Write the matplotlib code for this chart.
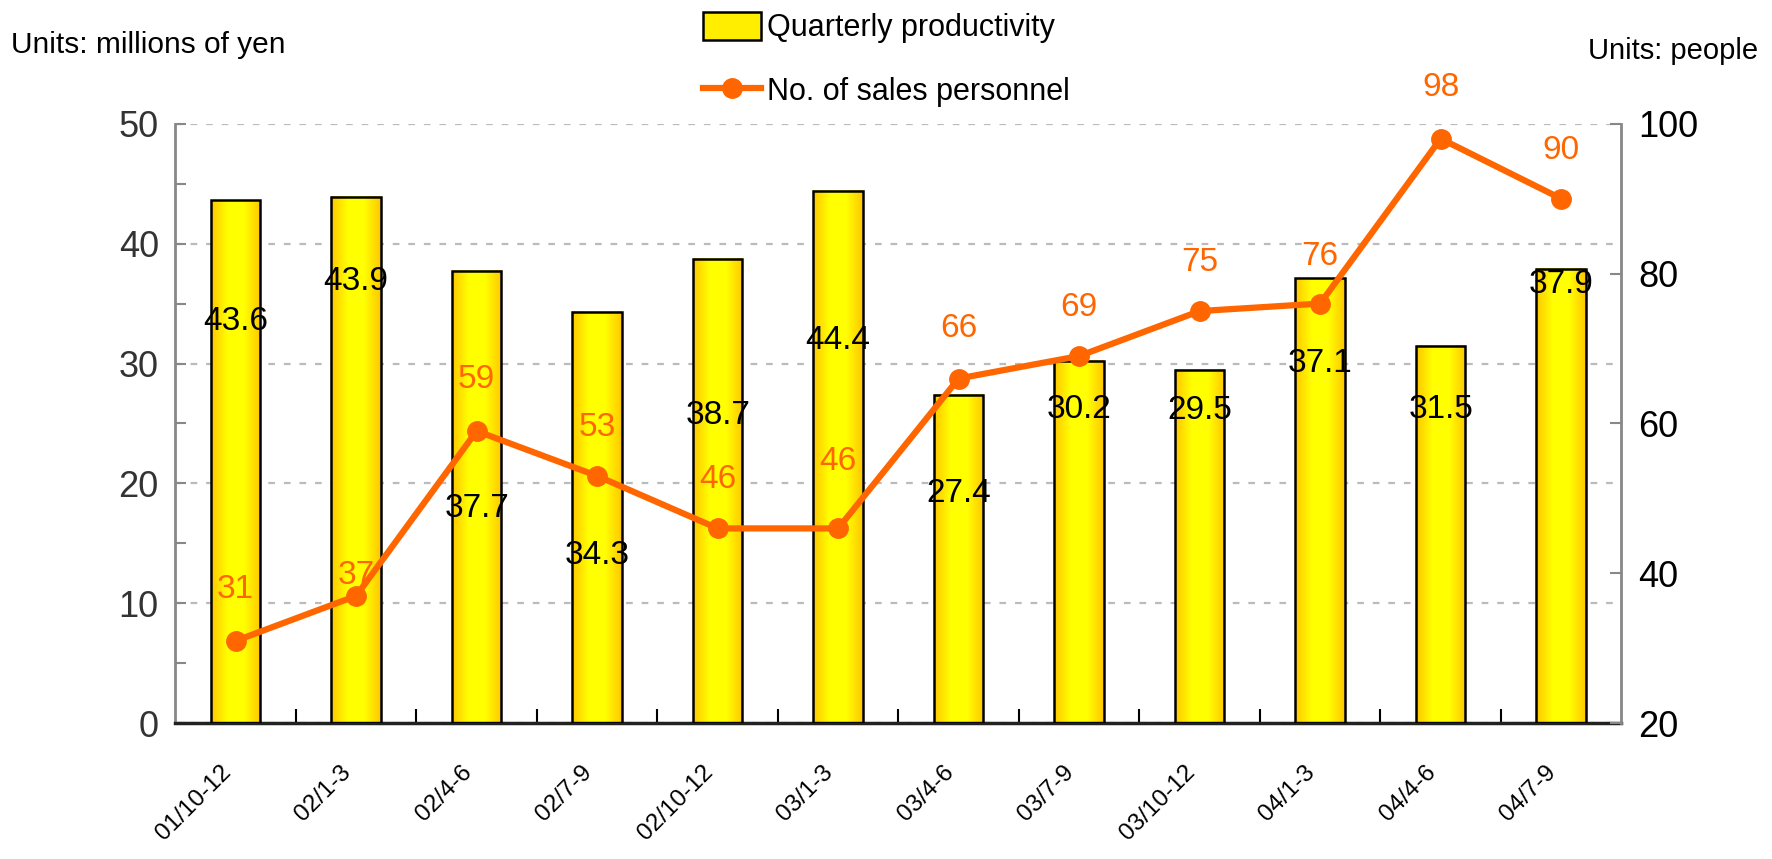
import numpy as np
import matplotlib.pyplot as plt
from matplotlib.colors import LinearSegmentedColormap
from matplotlib.patches import Patch
from matplotlib.lines import Line2D
from matplotlib.transforms import ScaledTranslation

plt.rcParams['font.family'] = ['Liberation Sans Narrow', 'Liberation Sans', 'DejaVu Sans']

quarters = ["01/10-12", "02/1-3", "02/4-6", "02/7-9", "02/10-12", "03/1-3",
            "03/4-6", "03/7-9", "03/10-12", "04/1-3", "04/4-6", "04/7-9"]
productivity = [43.6, 43.9, 37.7, 34.3, 38.7, 44.4, 27.4, 30.2, 29.5, 37.1, 31.5, 37.9]
personnel = [31, 37, 59, 53, 46, 46, 66, 69, 75, 76, 98, 90]

# where the value labels sit (left-axis units for bars, point offsets for the line)
bar_label_y = [33.5, 36.8, 17.9, 14.0, 25.7, 31.9, 19.2, 26.2, 26.1, 30.0, 26.2, 36.6]
line_label_dy = [37, 15, 37, 35, 35, 48, 36, 35, 35, 34, 37, 35]

ORANGE = "#FF6600"
grad = LinearSegmentedColormap.from_list("bar", ["#FFC800", "#FFFF00", "#FFFF00", "#FFC800"])

fig = plt.figure(figsize=(17.72, 8.59), dpi=100)
ax = fig.add_axes([0.099, 0.158, 0.816, 0.698])
ax2 = ax.twinx()

x = np.arange(len(quarters))
w = 0.41
gradient = np.linspace(0, 1, 64).reshape(1, -1)
for xi, v in zip(x, productivity):
    ax.imshow(gradient, cmap=grad, aspect="auto", extent=(xi - w / 2, xi + w / 2, 0, v),
              zorder=2, interpolation="bilinear")
ax.bar(x, productivity, width=w, facecolor="none", edgecolor="black", linewidth=1.8, zorder=3)

for xi, v, ly in zip(x, productivity, bar_label_y):
    ax.text(xi, ly, f"{v}", ha="center", va="center", fontsize=24, color="black", zorder=4)

ax.set_xlim(-0.5, len(quarters) - 0.5)
ax.set_ylim(0, 50)
ax.set_yticks(np.arange(0, 51, 10))
ax.set_yticks(np.arange(0, 51, 5), minor=True)
ax.yaxis.grid(True, which="major", linestyle=(0, (3, 4)), color="#BBBBBB", linewidth=1.6, zorder=0)
ax.set_axisbelow(True)
ax.tick_params(axis="y", which="both", direction="in", length=8, width=1.5, color="#888888",
               labelsize=26, labelcolor="#333333", pad=12)

ax.set_xticks(x)
ax.set_xticklabels(quarters, rotation=45, ha="right", va="top", rotation_mode="anchor", fontsize=17.5)
ax.set_xticks(x[:-1] + 0.5, minor=True)
ax.tick_params(axis="x", which="major", length=0, pad=27)
ax.tick_params(axis="x", which="minor", direction="in", length=10, width=1.5, color="black")
shift = ScaledTranslation(-0.16, 0, fig.dpi_scale_trans)
for lbl in ax.get_xticklabels():
    lbl.set_transform(lbl.get_transform() + shift)

ax.spines["top"].set_visible(False)
ax.spines["left"].set_color("#888888")
ax.spines["left"].set_linewidth(2)
ax.spines["bottom"].set_color("#222222")
ax.spines["bottom"].set_linewidth(2.5)

ax2.plot(x, personnel, color=ORANGE, linewidth=4.5, marker="o", markersize=14, zorder=5)
for xi, v, dy in zip(x, personnel, line_label_dy):
    ax2.annotate(f"{v}", (xi, v), xytext=(0, dy), textcoords="offset points",
                 ha="center", va="center", fontsize=24, color=ORANGE)
ax2.set_ylim(20, 100)
ax2.set_yticks(np.arange(20, 101, 20))
ax2.tick_params(axis="y", direction="in", length=8, width=1.5, color="#888888",
                labelsize=26, labelcolor="black", pad=12)
for s in ["top", "left", "bottom"]:
    ax2.spines[s].set_visible(False)
ax2.spines["right"].set_color("#888888")
ax2.spines["right"].set_linewidth(2)

fig.text(0.006, 1 - 45 / 859, "Units: millions of yen", fontsize=21.5, va="center", ha="left")
fig.text(0.992, 1 - 51 / 859, "Units: people", fontsize=21, va="center", ha="right")

handles = [Patch(facecolor="#FFEE00", edgecolor="black", linewidth=1.8),
           Line2D([0], [0], color=ORANGE, linewidth=4.5, marker="o", markersize=14)]
fig.legend(handles, ["Quarterly productivity", "No. of sales personnel"],
           loc="upper center", bbox_to_anchor=(0.5, 1.0), frameon=False, fontsize=22,
           labelspacing=1.05, handlelength=1.9, handleheight=1.0, handletextpad=0.2,
           borderaxespad=0)

fig.savefig("out.png", dpi=100)
